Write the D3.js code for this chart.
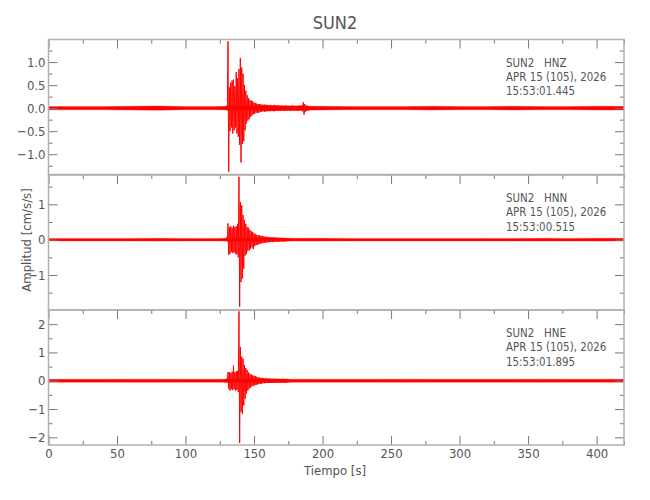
<!DOCTYPE html>
<html>
<head>
<meta charset="utf-8">
<script src="https://cdn.jsdelivr.net/npm/d3@7"></script>
<style>
  html, body { margin: 0; padding: 0; background: #fff; }
  svg { display: block; }
  text { font-family: 'Liberation Sans Narrow', 'DejaVu Sans Condensed', 'Arial Narrow', sans-serif; fill: #555; }
</style>
</head>
<body>
<div id="chart"></div>
<script>
// ---------------- data ----------------
const chartTitle = "SUN2";
const xLabel = "Tiempo [s]";
const yLabel = "Amplitud [cm/s/s]";
const stationLabels = ["SUN2   HNZ", "SUN2   HNN", "SUN2   HNE"];
const dateLabels = ["APR 15 (105), 2026", "APR 15 (105), 2026", "APR 15 (105), 2026"];
const startTimes = ["15:53:01.445", "15:53:00.515", "15:53:01.895"];

const xMajorTicks = [0, 50, 100, 150, 200, 250, 300, 350, 400];
const xMinorTicks = [25, 75, 125, 175, 225, 275, 325, 375, 420];

const yDomainZ = [-1.44, 1.49];
const yDomainN = [-1.99, 1.83];
const yDomainE = [-2.27, 2.50];
const yMajorZ = [-1.0, -0.5, 0.0, 0.5, 1.0];
const yMinorZ = [-1.25, -0.75, -0.25, 0.25, 0.75, 1.25];
const yMajorN = [-1, 0, 1];
const yMinorN = [-1.5, -0.5, 0.5, 1.5];
const yMajorE = [-2, -1, 0, 1, 2];
const yMinorE = [-1.5, -0.5, 0.5, 1.5];

// background noise band half-width, one value per 20 s (0..420 s)
const noiseTimes = [0,20,40,60,80,100,120,140,160,180,200,220,240,260,280,300,320,340,360,380,400,420];
const noiseZ = [0.035,0.035,0.035,0.04,0.045,0.035,0.035,0.04,0.05,0.045,0.04,0.035,0.035,0.035,0.04,0.035,0.035,0.04,0.035,0.035,0.04,0.04];
const noiseN = [0.035,0.035,0.035,0.035,0.04,0.035,0.035,0.04,0.045,0.04,0.04,0.035,0.035,0.035,0.035,0.035,0.035,0.035,0.04,0.035,0.04,0.04];
const noiseE = [0.05,0.05,0.05,0.055,0.055,0.05,0.05,0.055,0.06,0.055,0.05,0.05,0.05,0.055,0.05,0.05,0.05,0.05,0.055,0.05,0.05,0.055];

// event envelope: positive / negative peak per second, starting at 128 s
const eventStart = 128;
const eventHiZ = [0.035,0.035,0.05,1.45,0.45,0.55,0.60,0.62,0.48,0.78,0.65,0.85,1.09,0.88,0.75,0.50,0.38,0.28,0.22,0.18,0.16,0.15,0.12,0.11,0.10,0.09,0.09,0.08,0.08,0.07,0.08,0.07,0.07,0.06,0.07,0.06,0.06,0.07,0.06,0.06,0.06,0.05,0.06,0.05,0.05,0.06,0.05,0.05,0.05,0.05,0.06,0.05,0.05,0.05,0.05,0.06,0.05,0.07,0.13,0.09,0.06,0.05,0.045];
const eventLoZ = [-0.035,-0.035,-0.05,-1.38,-0.50,-0.42,-0.55,-0.48,-0.42,-0.55,-0.62,-0.80,-1.18,-0.78,-0.72,-0.48,-0.33,-0.27,-0.24,-0.19,-0.16,-0.13,-0.12,-0.10,-0.10,-0.10,-0.08,-0.08,-0.07,-0.08,-0.07,-0.07,-0.06,-0.07,-0.06,-0.06,-0.07,-0.06,-0.06,-0.06,-0.05,-0.06,-0.05,-0.05,-0.06,-0.05,-0.05,-0.05,-0.06,-0.05,-0.05,-0.05,-0.05,-0.06,-0.05,-0.05,-0.05,-0.07,-0.14,-0.08,-0.06,-0.05,-0.045];
const eventHiN = [0.035,0.035,0.06,0.46,0.35,0.38,0.34,0.40,0.36,0.38,0.45,1.78,1.07,0.97,0.70,0.56,0.45,0.36,0.34,0.28,0.24,0.22,0.18,0.16,0.14,0.13,0.12,0.11,0.10,0.09,0.09,0.08,0.08,0.07,0.07,0.06,0.07,0.06,0.06,0.05,0.06,0.05,0.05,0.05,0.05,0.045,0.04,0.04];
const eventLoN = [-0.035,-0.035,-0.05,-0.43,-0.40,-0.35,-0.38,-0.36,-0.40,-0.42,-0.50,-1.90,-1.20,-1.10,-0.82,-0.45,-0.40,-0.32,-0.30,-0.26,-0.22,-0.27,-0.18,-0.16,-0.15,-0.13,-0.12,-0.10,-0.10,-0.09,-0.08,-0.08,-0.07,-0.07,-0.06,-0.07,-0.06,-0.06,-0.05,-0.06,-0.05,-0.05,-0.05,-0.05,-0.05,-0.045,-0.04,-0.04];
const eventHiE = [0.05,0.05,0.07,0.31,0.30,0.28,0.32,0.54,0.30,0.33,0.35,2.45,1.20,0.85,0.78,0.55,0.45,0.38,0.30,0.25,0.22,0.19,0.18,0.16,0.14,0.12,0.11,0.10,0.10,0.09,0.09,0.08,0.08,0.08,0.07,0.07,0.07,0.07,0.07,0.06,0.07,0.06,0.06,0.07,0.06,0.06,0.055,0.055];
const eventLoE = [-0.05,-0.05,-0.07,-0.28,-0.35,-0.30,-0.33,-0.30,-0.35,-0.32,-0.40,-2.20,-1.10,-1.17,-0.87,-0.64,-0.45,-0.35,-0.28,-0.24,-0.20,-0.18,-0.16,-0.15,-0.13,-0.12,-0.11,-0.10,-0.09,-0.09,-0.08,-0.08,-0.08,-0.07,-0.08,-0.07,-0.07,-0.07,-0.06,-0.07,-0.06,-0.07,-0.06,-0.06,-0.07,-0.06,-0.055,-0.055];

// ---------------- drawing ----------------
const W = 650, H = 500;
const left = 48.5, right = 624;
const panelTops = [39.5, 175, 310];
const panelH = 135;

const panels = [
  { domain: yDomainZ, major: yMajorZ, minor: yMinorZ, fmt: d3.format(".1f"), noise: noiseZ, hi: eventHiZ, lo: eventLoZ },
  { domain: yDomainN, major: yMajorN, minor: yMinorN, fmt: d3.format("d"), noise: noiseN, hi: eventHiN, lo: eventLoN },
  { domain: yDomainE, major: yMajorE, minor: yMinorE, fmt: d3.format("d"), noise: noiseE, hi: eventHiE, lo: eventLoE }
];

const svg = d3.select("#chart").append("svg").attr("width", W).attr("height", H);

const x = d3.scaleLinear().domain([0, 420]).range([left, right]);

const axisColor = "#b0b0b0";
const tickColor = "#777";

function styleAxis(g) {
  g.select(".domain").remove();
  g.selectAll(".tick line").attr("stroke", tickColor).attr("stroke-width", 1);
  g.selectAll(".tick text").attr("fill", "#555").style("font-size", "13px");
}

panels.forEach((p, i) => {
  const top = panelTops[i];
  const y = d3.scaleLinear().domain(p.domain).range([top + panelH, top]);
  const g = svg.append("g");

  const clipId = "clip" + i;
  svg.append("clipPath").attr("id", clipId).append("rect")
    .attr("x", left).attr("y", top).attr("width", right - left).attr("height", panelH);

  const plot = g.append("g").attr("clip-path", `url(#${clipId})`);

  // noise band
  const area = d3.area()
    .x((d, k) => x(noiseTimes[k]))
    .y0(d => y(-d))
    .y1(d => y(d));
  plot.append("path").datum(p.noise).attr("d", area)
    .attr("fill", "#ff0000").attr("stroke", "#ff2020").attr("stroke-width", 0.6).attr("stroke-opacity", 0.6);

  // event waveform (zig-zag through positive/negative peaks)
  const pts = [];
  p.hi.forEach((v, k) => {
    pts.push([eventStart + k, v]);
    pts.push([eventStart + k + 0.5, p.lo[k]]);
  });
  const line = d3.line().x(d => x(d[0])).y(d => y(d[1]));
  plot.append("path").datum(pts).attr("d", line)
    .attr("fill", "none").attr("stroke", "#ff0000").attr("stroke-width", 1);

  // left axis
  g.append("g").attr("transform", `translate(${left},0)`)
    .call(d3.axisLeft(y).tickValues(p.major).tickSize(-9).tickSizeOuter(0).tickPadding(3).tickFormat(p.fmt))
    .call(styleAxis);
  g.append("g").attr("transform", `translate(${left},0)`)
    .call(d3.axisLeft(y).tickValues(p.minor).tickSize(-4).tickSizeOuter(0).tickFormat(""))
    .call(styleAxis);
  // right axis
  g.append("g").attr("transform", `translate(${right},0)`)
    .call(d3.axisRight(y).tickValues(p.major).tickSize(-9).tickSizeOuter(0).tickFormat(""))
    .call(styleAxis);
  g.append("g").attr("transform", `translate(${right},0)`)
    .call(d3.axisRight(y).tickValues(p.minor).tickSize(-4).tickSizeOuter(0).tickFormat(""))
    .call(styleAxis);
  // top axis
  g.append("g").attr("transform", `translate(0,${top})`)
    .call(d3.axisTop(x).tickValues(xMajorTicks).tickSize(-9).tickSizeOuter(0).tickFormat(""))
    .call(styleAxis);
  g.append("g").attr("transform", `translate(0,${top})`)
    .call(d3.axisTop(x).tickValues(xMinorTicks).tickSize(-4).tickSizeOuter(0).tickFormat(""))
    .call(styleAxis);

  if (i === panels.length - 1) {
    g.append("g").attr("transform", `translate(0,${top + panelH})`)
      .call(d3.axisBottom(x).tickValues(xMajorTicks).tickSize(-9).tickSizeOuter(0).tickPadding(4).tickFormat(d3.format("d")))
      .call(styleAxis);
    g.append("g").attr("transform", `translate(0,${top + panelH})`)
      .call(d3.axisBottom(x).tickValues(xMinorTicks).tickSize(-4).tickSizeOuter(0).tickFormat(""))
      .call(styleAxis);
  }

  // frame
  g.append("rect").attr("x", left).attr("y", top).attr("width", right - left).attr("height", panelH)
    .attr("fill", "none").attr("stroke", axisColor).attr("stroke-width", 1.5);

  // annotations (horizontally condensed to match the narrow plot font)
  const ann = g.append("g").attr("transform", `translate(506,${top + 27}) scale(0.88,1)`);
  [stationLabels[i], dateLabels[i], startTimes[i]].forEach((t, k) => {
    ann.append("text").attr("x", 0).attr("y", k * 14.5)
      .style("font-size", "13px").style("white-space", "pre").attr("fill", "#444").text(t);
  });
});

// title and axis labels
svg.append("text").attr("x", 335).attr("y", 29).attr("text-anchor", "middle")
  .style("font-size", "18px").attr("fill", "#555").text(chartTitle);
svg.append("text").attr("x", 335).attr("y", 475).attr("text-anchor", "middle")
  .style("font-size", "13px").attr("fill", "#555").text(xLabel);
svg.append("text").attr("transform", "translate(31,240) rotate(-90)").attr("text-anchor", "middle")
  .style("font-size", "13px").attr("fill", "#555").text(yLabel);
</script>
</body>
</html>
